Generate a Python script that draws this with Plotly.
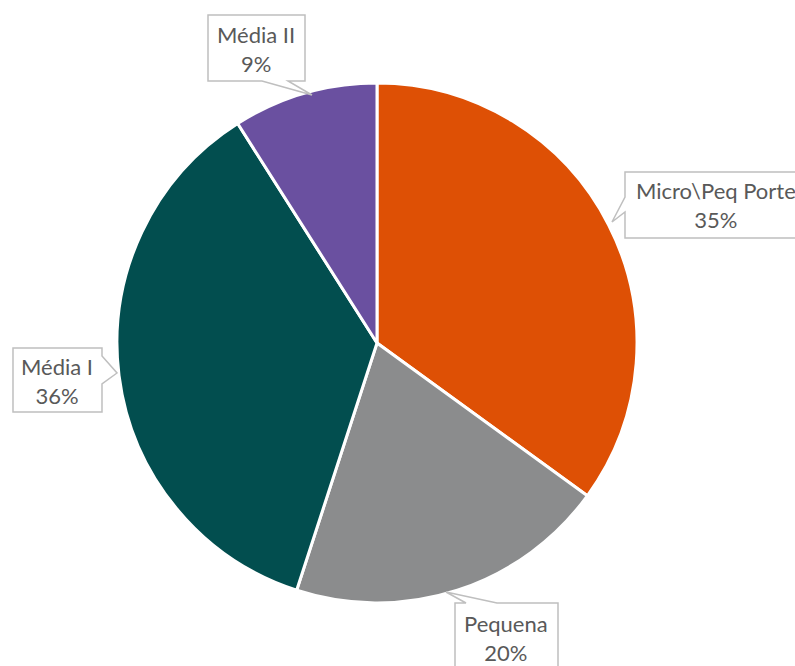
import plotly.graph_objects as go

W, H = 795, 666

segments = ["Micro\\Peq Porte", "Pequena", "Média I", "Média II"]
shares = [35, 20, 36, 9]
slice_colors = ["#DE5005", "#8B8C8D", "#024E4F", "#6A50A0"]

# callout layout in pixels: box (x0, y0, x1, y1), pointer (a, tip, b), text centre
callouts = [
    {"box": (625, 172, 810, 238), "ptr": [(625, 197), (612, 222), (625, 212)], "side": "left", "txt": (716, 205)},
    {"box": (455, 603, 558, 690), "ptr": [(466, 603), (446, 592), (497, 603)], "side": "top", "txt": (506, 638)},
    {"box": (13, 348, 102, 412), "ptr": [(102, 356), (117, 373), (102, 384)], "side": "right", "txt": (57, 381)},
    {"box": (208, 15, 305, 81), "ptr": [(262, 81), (312, 95), (288, 81)], "side": "bottom", "txt": (256, 49)},
]


def px(x, y):
    return x / W, 1 - y / H


def callout_path(c):
    x0, y0, x1, y1 = c["box"]
    a, tip, b = c["ptr"]
    side = c["side"]
    pts = [(x0, y0)]
    if side == "top":
        pts += [a, tip, b]
    pts.append((x1, y0))
    if side == "right":
        pts += [a, tip, b]
    pts.append((x1, y1))
    if side == "bottom":
        pts += [b, tip, a]
    pts.append((x0, y1))
    if side == "left":
        pts += [b, tip, a]
    conv = [px(*p) for p in pts]
    return "M " + " L ".join(f"{x:.5f},{y:.5f}" for x, y in conv) + " Z"


cx, cy, r = 377, 343, 260
fig = go.Figure(go.Pie(
    labels=segments,
    values=shares,
    sort=False,
    direction="clockwise",
    rotation=0,
    textinfo="none",
    hoverinfo="label+percent",
    marker={"colors": slice_colors, "line": {"color": "white", "width": 3}},
    domain={"x": [(cx - r) / W, (cx + r) / W], "y": [(H - cy - r) / H, (H - cy + r) / H]},
    showlegend=False,
))

shapes = []
annotations = []
total = sum(shares)
for name, val, c in zip(segments, shares, callouts):
    shapes.append({
        "type": "path", "xref": "paper", "yref": "paper",
        "path": callout_path(c),
        "fillcolor": "white", "line": {"color": "#BFBFBF", "width": 1.5},
    })
    tx, ty = px(*c["txt"])
    annotations.append({
        "xref": "paper", "yref": "paper", "x": tx, "y": ty,
        "text": f"{name}<br>{round(100 * val / total)}%",
        "showarrow": False, "xanchor": "center", "yanchor": "middle",
        "font": {"family": "Lato", "size": 22, "color": "#595959"},
    })

fig.update_layout(
    width=W, height=H,
    margin={"l": 0, "r": 0, "t": 0, "b": 0},
    paper_bgcolor="white",
    plot_bgcolor="white",
    shapes=shapes,
    annotations=annotations,
)

fig.write_html(
    "out.html",
    config={"displayModeBar": False},
    post_script="document.body.style.margin='0';document.body.style.overflow='hidden';",
)
